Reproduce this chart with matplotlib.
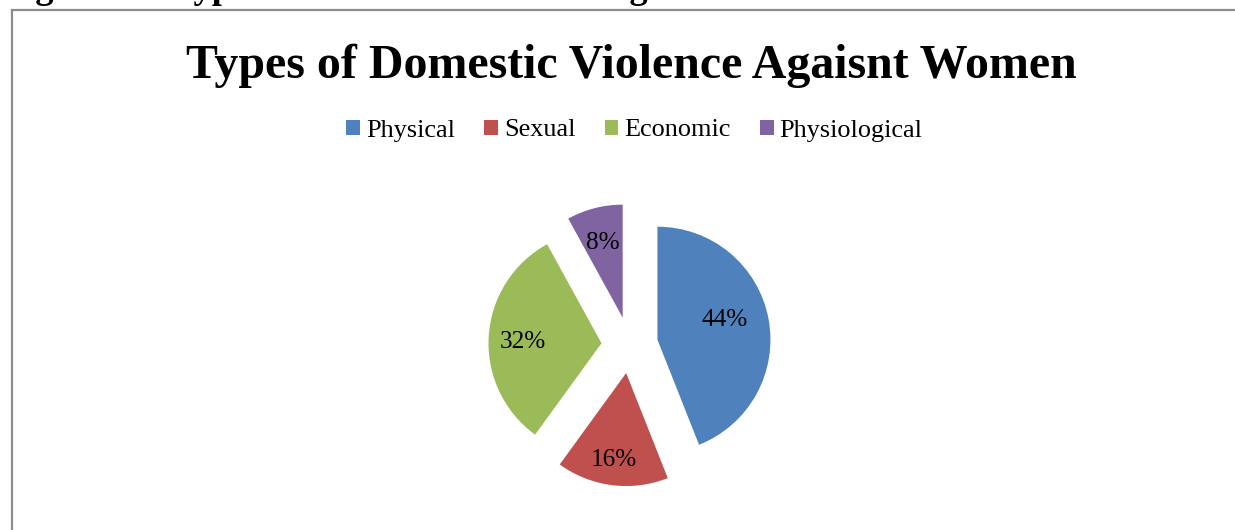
import numpy as np
import matplotlib
matplotlib.use("Agg")
import matplotlib.pyplot as plt
from matplotlib.patches import Rectangle

# Data
categories = ["Physical", "Sexual", "Economic", "Physiological"]
shares = [44, 16, 32, 8]
colors = ["#4F81BD", "#C0504D", "#9BBB59", "#8064A2"]
title = "Types of Domestic Violence Agaisnt Women"
caption = "Figure 10: Types of Domestic Violence Against Women"

W, H, DPI = 1235, 530, 100
fig = plt.figure(figsize=(W / DPI, H / DPI), dpi=DPI)
fig.patch.set_facecolor("white")
serif = "Liberation Serif"

def fx(px):
    return px / W

def fy(px_from_top):
    return (H - px_from_top) / H

# Caption line above the chart box (only its lower edge falls inside the page)
fig.text(fx(3.3), fy(-1.5), caption, fontsize=26.3, fontweight="bold",
         family=serif, ha="left", va="baseline")

# Chart box outline
fig.patches.append(Rectangle((fx(12), fy(600)), fx(1400), (600 - 10) / H,
                             transform=fig.transFigure, fill=False,
                             edgecolor="#8c8c8c", linewidth=1.6))

# Title
fig.text(fx(631), fy(78), title, fontsize=34.5, fontweight="bold",
         family=serif, ha="center", va="baseline")

# Pie: radius R pixels, centred at (cx, cy) from the top-left corner
R = 113.0
cx, cy = 629.7, 345.0
half = 250.0
ax = fig.add_axes([fx(cx - half), (H - cy - half) / H, 2 * half / W, 2 * half / H])
wedges, texts, autotexts = ax.pie(
    shares, colors=colors, startangle=90, counterclock=False,
    explode=[0.25] * len(shares), autopct="%1.0f%%", pctdistance=0.68,
    wedgeprops=dict(linewidth=0),
    textprops=dict(family=serif, fontsize=18.2, color="black"))

# Percentage labels: offset from each wedge's tip, in units of the radius
label_offsets = [(0.598, 0.170), (-0.106, -0.770), (-0.696, 0.007), (-0.180, 0.661)]
for w, t, (dx, dy) in zip(wedges, autotexts, label_offsets):
    ox, oy = w.center
    t.set_position((ox + dx, oy + dy))

ax.set_xlim(-half / R, half / R)
ax.set_ylim(-half / R, half / R)
ax.set_aspect("equal")
ax.axis("off")

fig.legend(wedges, categories, loc="center",
           bbox_to_anchor=(fx(634.5), fy(130.5)), ncol=4, frameon=False,
           handlelength=0.515, handleheight=0.515, handletextpad=0.23,
           columnspacing=1.12, prop=dict(family=serif, size=18.9))

fig.savefig("out.png", dpi=DPI, facecolor="white")
